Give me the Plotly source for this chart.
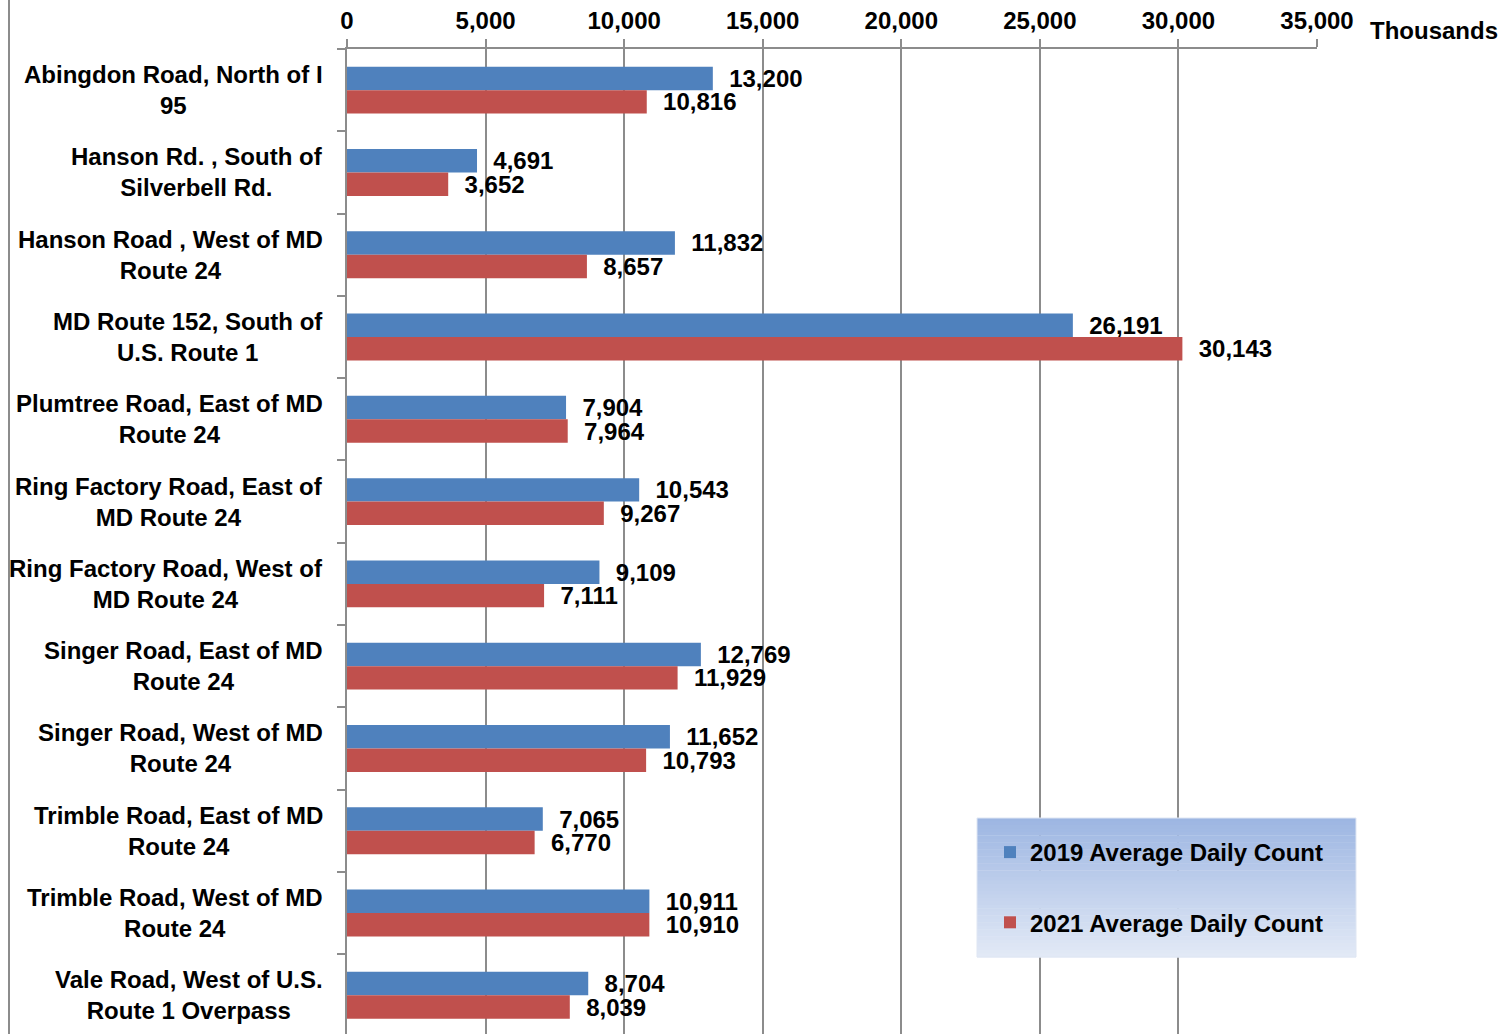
import plotly.graph_objects as go

categories = [
    "Abingdon Road, North of I 95",
    "Hanson Rd. , South of Silverbell Rd.",
    "Hanson Road , West of MD Route 24",
    "MD Route 152, South of U.S. Route 1",
    "Plumtree Road, East of MD Route 24",
    "Ring Factory Road, East of MD Route 24",
    "Ring Factory Road, West of MD Route 24",
    "Singer Road, East of MD Route 24",
    "Singer Road, West of MD Route 24",
    "Trimble Road, East of MD Route 24",
    "Trimble Road, West of MD Route 24",
    "Vale Road, West of U.S. Route 1 Overpass",
]
category_labels = [
    "Abingdon Road, North of I<br>95",
    "Hanson Rd. , South of<br>Silverbell Rd.",
    "Hanson Road , West of MD<br>Route 24",
    "MD Route 152, South of<br>U.S. Route 1",
    "Plumtree Road, East of MD<br>Route 24",
    "Ring Factory Road, East of<br>MD Route 24",
    "Ring Factory Road, West of<br>MD Route 24",
    "Singer Road, East of MD<br>Route 24",
    "Singer Road, West of MD<br>Route 24",
    "Trimble Road, East of MD<br>Route 24",
    "Trimble Road, West of MD<br>Route 24",
    "Vale Road, West of U.S.<br>Route 1 Overpass",
]
counts_2019 = [13200, 4691, 11832, 26191, 7904, 10543, 9109, 12769, 11652, 7065, 10911, 8704]
counts_2021 = [10816, 3652, 8657, 30143, 7964, 9267, 7111, 11929, 10793, 6770, 10910, 8039]
series_names = ["2019 Average Daily Count", "2021 Average Daily Count"]
x_tickvals = [0, 5000, 10000, 15000, 20000, 25000, 30000, 35000]

FONT = "Liberation Sans, Arial, sans-serif"
FS = 24
W, H = 1505, 1034
ML, MR, MT, MB = 347, 188, 49, 0
PW, PH = W - ML - MR, H - MT - MB

def px_x(p):
    return (p - ML) / PW

def px_y(p):
    return (H - MB - p) / PH

fig = go.Figure()
for name, vals, col, grp in [
    (series_names[0], counts_2019, "#4F81BD", "a"),
    (series_names[1], counts_2021, "#C0504D", "b"),
]:
    fig.add_trace(go.Bar(
        y=categories, x=vals, name=name, orientation="h",
        marker=dict(color=col, line=dict(width=0)),
        texttemplate="\u00a0\u00a0%{x:,}", textposition="outside",
        constraintext="none", cliponaxis=False,
        textfont=dict(family=FONT, size=FS, color="black", weight="bold"),
        legendgroup=grp,
    ))

annotations = []
for cat, lab in zip(categories, category_labels):
    annotations.append(dict(
        x=px_x(325), xref="paper", y=cat, yref="y", text=lab,
        xanchor="right", yanchor="middle", align="center", showarrow=False,
        font=dict(family=FONT, size=FS, color="black", weight="bold"),
    ))
annotations.append(dict(
    x=px_x(1368), xref="paper", y=px_y(30), yref="paper", text="Thousands",
    xanchor="left", yanchor="middle", showarrow=False,
    font=dict(family=FONT, size=FS, color="black", weight="bold"),
))

shapes = [dict(type="line", xref="paper", yref="paper",
               x0=px_x(9), x1=px_x(9), y0=px_y(H), y1=px_y(0),
               line=dict(color="#8c8c8c", width=2), layer="above")]
# gradient background of the legend box
lx0, lx1, ly0, ly1 = 977, 1356, 818, 957
n = 40
c0 = (157, 182, 226)
c1 = (226, 233, 246)
for i in range(n):
    t = i / (n - 1)
    c = tuple(round(c0[k] + (c1[k] - c0[k]) * t) for k in range(3))
    ya = ly0 + (ly1 - ly0) * i / n
    yb = ly0 + (ly1 - ly0) * (i + 1) / n
    shapes.append(dict(type="rect", xref="paper", yref="paper",
                       x0=px_x(lx0), x1=px_x(lx1), y0=px_y(yb) - 0.0005, y1=px_y(ya),
                       line=dict(width=0), fillcolor="rgb(%d,%d,%d)" % c, layer="above"))
shapes.append(dict(type="rect", xref="paper", yref="paper",
                   x0=px_x(lx0), x1=px_x(lx1), y0=px_y(ly1), y1=px_y(ly0),
                   line=dict(width=1, color="#dfe6f3"), fillcolor="rgba(0,0,0,0)", layer="above"))

fig.update_layout(
    width=W, height=H,
    margin=dict(l=ML, r=MR, t=MT, b=MB, pad=0),
    paper_bgcolor="white", plot_bgcolor="white",
    barmode="group", bargap=0.43, bargroupgap=0,
    font=dict(family=FONT, size=FS, color="black"),
    xaxis=dict(
        side="top", range=[0, 35000], tickvals=x_tickvals, tickformat=",",
        showgrid=True, gridcolor="#8c8c8c", gridwidth=2,
        showline=True, linecolor="#8c8c8c", linewidth=2,
        ticks="outside", ticklen=8, tickwidth=2, tickcolor="#8c8c8c",
        tickfont=dict(family=FONT, size=FS, color="black", weight="bold"),
        zeroline=False, fixedrange=True,
    ),
    yaxis=dict(
        categoryorder="array", categoryarray=categories,
        range=[11.47, -0.5], showticklabels=False,
        showgrid=False, zeroline=False,
        showline=True, linecolor="#8c8c8c", linewidth=2,
        ticks="outside", ticklen=8, tickwidth=2, tickcolor="#8c8c8c",
        tickson="boundaries", fixedrange=True,
    ),
    legend=dict(
        x=px_x(990), y=px_y(830), xanchor="left", yanchor="top",
        bgcolor="rgba(0,0,0,0)", borderwidth=0,
        traceorder="grouped", tracegroupgap=36, itemwidth=30,
        font=dict(family=FONT, size=FS, color="black", weight="bold"),
    ),
    annotations=annotations,
    shapes=shapes,
    showlegend=True,
    hovermode=False,
)

fig.write_html(
    "out.html",
    config={"displayModeBar": False},
    post_script="document.body.style.margin='0';document.body.style.overflow='hidden';",
)
